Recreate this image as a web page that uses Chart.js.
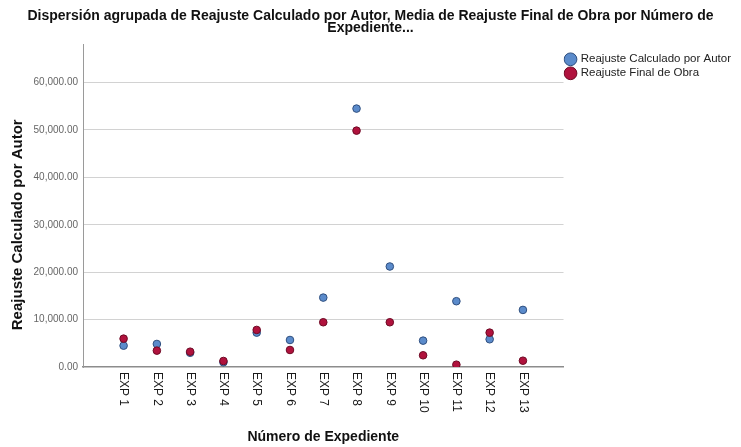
<!DOCTYPE html>
<html>
<head>
<meta charset="utf-8">
<script src="https://cdn.jsdelivr.net/npm/chart.js@4.4.1/dist/chart.umd.min.js"></script>
<style>
  html, body { margin: 0; padding: 0; background: #fff; }
</style>
</head>
<body>
<canvas id="dispChart" width="741" height="447"></canvas>
<script>
const expedientes = ['EXP 1', 'EXP 2', 'EXP 3', 'EXP 4', 'EXP 5', 'EXP 6', 'EXP 7',
                     'EXP 8', 'EXP 9', 'EXP 10', 'EXP 11', 'EXP 12', 'EXP 13'];
const reajusteCalculado = [4500, 4860, 3000, 1000, 7250, 5700, 14640, 54510, 21200, 5560, 13880, 5850, 12040];
const reajusteFinal     = [5980, 3450, 3230, 1270, 7820, 3590, 9440, 49860, 9440, 2470, 490, 7250, 1330];
const yTickValues = [0, 10000, 20000, 30000, 40000, 50000, 60000];

const FONT = '"Liberation Sans", Arial, Helvetica, sans-serif';

// SPSS style rotated (top to bottom) category labels + y title centred on tick range
const spssLabels = {
    id: 'spssLabels',
    afterDraw(chart) {
        const ctx = chart.ctx;
        const xs = chart.scales.x;
        const ys = chart.scales.y;
        ctx.save();
        ctx.font = '12px ' + FONT;
        ctx.fillStyle = '#1a1a1a';
        ctx.textAlign = 'left';
        ctx.textBaseline = 'middle';
        expedientes.forEach((lab, i) => {
            ctx.save();
            ctx.translate(xs.getPixelForValue(i + 1), xs.top + 5);
            ctx.rotate(Math.PI / 2);
            ctx.fillText(lab, 0, 0);
            ctx.restore();
        });
        const cy = (ys.getPixelForValue(yTickValues[0]) + ys.getPixelForValue(yTickValues[yTickValues.length - 1])) / 2;
        ctx.translate(18, cy);
        ctx.rotate(-Math.PI / 2);
        ctx.font = 'bold 15px ' + FONT;
        ctx.textAlign = 'center';
        ctx.fillStyle = '#111';
        ctx.fillText('Reajuste Calculado por Autor', 0, 0);
        ctx.restore();
    }
};

const ctx = document.getElementById('dispChart').getContext('2d');

const dispChart = new Chart(ctx, {
    type: 'scatter',
    data: {
        datasets: [{
            label: 'Reajuste Calculado por Autor',
            data: reajusteCalculado.map((v, i) => ({ x: i + 1, y: v })),
            backgroundColor: '#5b8bcb',
            borderColor: '#2f4f7f',
            borderWidth: 1,
            pointRadius: 3.8,
            order: 2
        }, {
            label: 'Reajuste Final de Obra',
            data: reajusteFinal.map((v, i) => ({ x: i + 1, y: v })),
            backgroundColor: '#b0123d',
            borderColor: '#6e0a25',
            borderWidth: 1,
            pointRadius: 3.8,
            order: 1
        }]
    },
    options: {
        responsive: false,
        animation: false,
        layout: { padding: 0 },
        plugins: {
            tooltip: { enabled: false },
            title: {
                display: true,
                text: ['Dispersión agrupada de Reajuste Calculado por Autor, Media de Reajuste Final de Obra por Número de',
                       'Expediente...'],
                font: { family: FONT, size: 14, weight: 'bold', lineHeight: 0.88 },
                color: '#111',
                padding: { top: 10, bottom: 10 }
            },
            legend: {
                position: 'right',
                align: 'start',
                fullSize: false,
                title: { display: true, text: ' ', font: { size: 2 }, padding: 2 },
                labels: {
                    usePointStyle: true,
                    pointStyle: 'circle',
                    boxWidth: 9,
                    boxHeight: 9,
                    padding: 2.5,
                    color: '#222',
                    font: { family: FONT, size: 11.5 },
                    sort: (a, b) => a.datasetIndex - b.datasetIndex
                }
            }
        },
        scales: {
            x: {
                type: 'linear',
                min: -0.22,
                max: 14.22,
                grid: { display: false },
                border: { display: true, color: '#8c8c8c', width: 1.5 },
                ticks: { display: false },
                title: {
                    display: true,
                    text: 'Número de Expediente',
                    font: { family: FONT, size: 14, weight: 'bold' },
                    color: '#111',
                    padding: { top: 0, bottom: 1 }
                },
                afterFit: (scale) => { scale.height = 80; }
            },
            y: {
                min: 0,
                max: 68000,
                afterBuildTicks: (scale) => {
                    scale.ticks = yTickValues.map(v => ({ value: v }));
                },
                grid: {
                    drawTicks: false,
                    color: (c) => c.tick && c.tick.value === 0 ? 'rgba(0,0,0,0)' : '#d2d2d2'
                },
                border: { display: true, color: '#9a9a9a' },
                ticks: {
                    padding: 5,
                    color: '#666',
                    font: { family: FONT, size: 10 },
                    callback: (v) => Number(v).toLocaleString('en-US', { minimumFractionDigits: 2, maximumFractionDigits: 2 })
                },
                afterFit: (scale) => { scale.width = 83; }
            }
        }
    },
    plugins: [spssLabels]
});
</script>
</body>
</html>
